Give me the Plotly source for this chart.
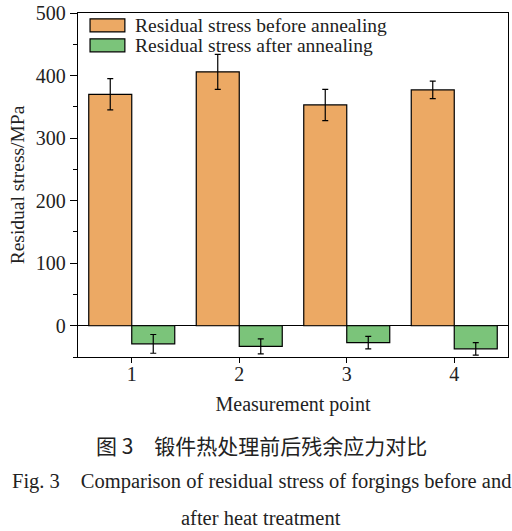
import plotly.graph_objects as go

points = [1, 2, 3, 4]
before = [370, 406, 353, 377]
before_err = [25, 28, 25, 14]
after = [-29, -33, -27, -37]
after_err = [15, 12, 10, 10]

legend_names = ["Residual stress before annealing", "Residual stress after annealing"]
caption_cn = "图 3　锻件热处理前后残余应力对比"
caption_en1 = "Fig. 3　Comparison of residual stress of forgings before and"
caption_en2 = "after heat treatment"

orange = "#ECA964"
green = "#7BC47A"
serif = "Liberation Serif"
ink = "#222"

fig = go.Figure()
fig.add_trace(go.Bar(
    x=points, y=before, name=legend_names[0],
    marker=dict(color=orange, line=dict(color="black", width=1.2)),
    error_y=dict(type="data", array=before_err, color="black", thickness=1.2, width=3),
))
fig.add_trace(go.Bar(
    x=points, y=after, name=legend_names[1],
    marker=dict(color=green, line=dict(color="black", width=1.2)),
    error_y=dict(type="data", array=after_err, color="black", thickness=1.2, width=3),
))

# legend drawn by hand so the swatches are wide rectangles like the original
for i, (name, col) in enumerate(zip(legend_names, [orange, green])):
    y0 = 0.983 - i * 0.058
    fig.add_shape(type="rect", xref="paper", yref="paper",
                  x0=0.028, x1=0.109, y0=y0 - 0.038, y1=y0,
                  fillcolor=col, line=dict(color="black", width=1.2))
    fig.add_annotation(text=name, xref="paper", yref="paper",
                       x=0.127, y=y0 - 0.019, xanchor="left", yanchor="middle",
                       showarrow=False, font=dict(family=serif, size=19.5, color=ink))

cap_x = 0.426
fig.add_annotation(text=caption_cn, xref="paper", yref="paper", x=cap_x, y=-0.256,
                   xanchor="center", yanchor="middle", showarrow=False,
                   font=dict(family="Noto Sans CJK SC", size=21, color=ink))
fig.add_annotation(text=caption_en1, xref="paper", yref="paper", x=cap_x, y=-0.363,
                   xanchor="center", yanchor="middle", showarrow=False,
                   font=dict(family=serif, size=20.5, color=ink))
fig.add_annotation(text=caption_en2, xref="paper", yref="paper", x=cap_x, y=-0.468,
                   xanchor="center", yanchor="middle", showarrow=False,
                   font=dict(family=serif, size=20.5, color=ink))

fig.update_layout(
    width=512, height=531,
    margin=dict(l=78, r=4, t=13, b=174, autoexpand=False),
    barmode="group", bargap=0.2, bargroupgap=0,
    showlegend=False,
    plot_bgcolor="white", paper_bgcolor="white",
    font=dict(family=serif, size=19, color=ink),
)
fig.update_xaxes(
    range=[0.5, 4.5], tickvals=points, ticks="outside", ticklen=5, tickcolor="black",
    tickfont=dict(family=serif, size=20, color=ink), ticklabelstandoff=-6,
    showline=True, linecolor="black", linewidth=1.3, mirror=True, showgrid=False,
    title=dict(text="Measurement point", standoff=12, font=dict(family=serif, size=20, color=ink)),
)
fig.update_yaxes(
    range=[-50, 500], dtick=100, ticks="outside", ticklen=7, tickcolor="black",
    tickfont=dict(family=serif, size=20, color=ink),
    minor=dict(dtick=50, ticks="outside", ticklen=4, tickcolor="black"),
    showline=True, linecolor="black", linewidth=1.3, mirror=True, showgrid=False,
    zeroline=True, zerolinecolor="black", zerolinewidth=1.2,
    title=dict(text="Residual stress/MPa", standoff=6, font=dict(family=serif, size=19.5, color=ink)),
)

fig.write_html("out.html", config={"displayModeBar": False},
               post_script="document.body.style.margin='0';document.body.style.overflow='hidden';")
